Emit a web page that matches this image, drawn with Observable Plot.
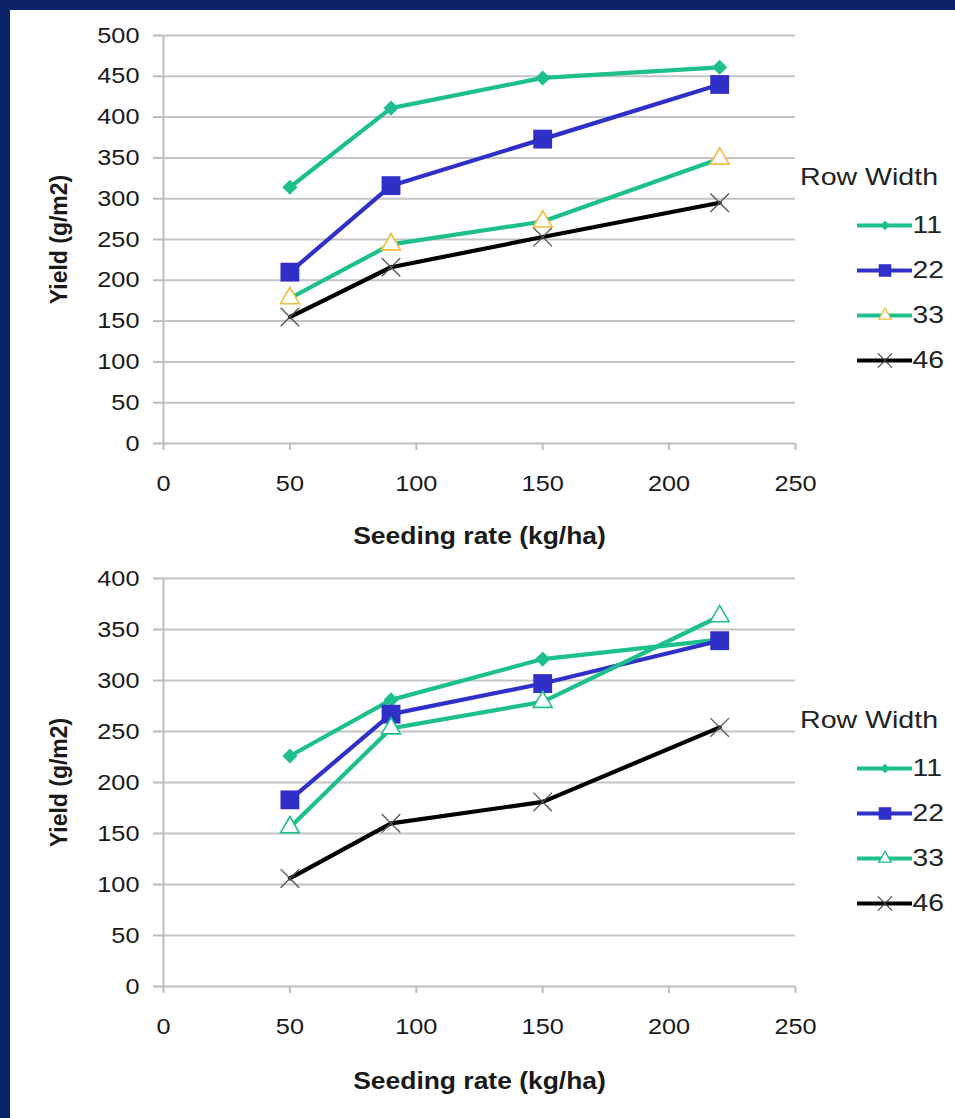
<!DOCTYPE html>
<html><head><meta charset="utf-8">
<script src="https://cdn.jsdelivr.net/npm/d3@7"></script>
<script src="https://cdn.jsdelivr.net/npm/@observablehq/plot@0.6"></script>
<style>
body{margin:0;background:#fff;}
#page{position:relative;width:955px;height:1118px;background:#fff;overflow:hidden;}
#frame{position:absolute;left:0;top:0;width:955px;height:1118px;box-sizing:border-box;border-left:10px solid #0b2468;border-top:10px solid #0b2468;pointer-events:none;}
.abs{position:absolute;}
.ltitle{font-family:"Liberation Sans",Arial,sans-serif;font-size:24px;line-height:28px;color:#222;white-space:nowrap;transform:scaleX(1.19);transform-origin:left center;}
</style></head><body><div id="page"></div>
<script>
// ---- data ----
const rates = [50, 90, 150, 220];
const widths = ["11", "22", "33", "46"];
const xTicks = [0, 50, 100, 150, 200, 250];
const yTicks1 = [0, 50, 100, 150, 200, 250, 300, 350, 400, 450, 500];
const yTicks2 = [0, 50, 100, 150, 200, 250, 300, 350, 400];
// top chart
const top11 = [314, 411, 448, 461];
const top22 = [210, 316, 373, 440];
const top33 = [178, 244, 272, 349];
const top46 = [155, 216, 253, 295];
// bottom chart
const bot11 = [226, 281, 321, 340];
const bot22 = [183, 267, 297, 339];
const bot33 = [156, 253, 279, 363];
const bot46 = [106, 160, 181, 254];

const teal = "#1dbf8d", blue = "#3030c8", black = "#000000";
const colorScale = {domain: widths, range: [teal, blue, teal, black]};
const font = "'Liberation Sans', Arial, sans-serif";
const SX = 1.15; // horizontal stretch of the original slide

function rows(series) {
  const out = [];
  widths.forEach((w, i) => rates.forEach((r, j) => out.push({rate: r, width: w, value: series[i][j]})));
  return out;
}

function stretch(root, selector, s) {
  root.querySelectorAll(selector).forEach(t => {
    const x = +(t.getAttribute("x") || 0);
    const tr = t.getAttribute("transform") || "";
    t.setAttribute("transform", `${tr} translate(${x},0) scale(${s},1) translate(${-x},0)`);
  });
}

function chart({data, yTicks, top, height, mt, mb, triStroke, xLabelOffset}) {
  const ymax = yTicks[yTicks.length - 1];
  const p = Plot.plot({
    width: 955, height,
    marginLeft: 163, marginRight: 160, marginTop: mt, marginBottom: mb,
    style: {fontFamily: font, fontSize: "22px", color: "#1a1a1a", background: "transparent", overflow: "visible"},
    x: {domain: [0, 250]},
    y: {domain: [0, ymax]},
    color: colorScale,
    marks: [
      Plot.gridY({ticks: yTicks.slice(1), stroke: "#c4c4c4", strokeOpacity: 1, strokeWidth: 2}),
      Plot.ruleY([0], {stroke: "#bdbdbd", strokeWidth: 2}),
      Plot.ruleX([0], {stroke: "#bdbdbd", strokeWidth: 2}),
      Plot.axisY({ticks: yTicks, tickSize: 10, tickPadding: 14, stroke: "#bdbdbd", strokeWidth: 2,
        label: "Yield (g/m2)", labelAnchor: "center", labelArrow: "none", labelOffset: 113}),
      Plot.axisX({ticks: xTicks, tickSize: 7, tickPadding: 25, stroke: "#bdbdbd", strokeWidth: 2,
        label: "Seeding rate (kg/ha)", labelAnchor: "center", labelArrow: "none", labelOffset: xLabelOffset}),
      Plot.line(data, {x: "rate", y: "value", z: "width", stroke: "width", strokeWidth: 4.2}),
      Plot.dot(data.filter(d => d.width === "11"), {x: "rate", y: "value", symbol: "diamond2", r: 6.8, fill: teal}),
      Plot.dot(data.filter(d => d.width === "22"), {x: "rate", y: "value", symbol: "square2", r: 12, fill: blue}),
      Plot.dot(data.filter(d => d.width === "33"), {x: "rate", y: "value", symbol: "triangle", r: 7, fill: "#fff", stroke: triStroke, strokeWidth: 1.6}),
      Plot.dot(data.filter(d => d.width === "46"), {x: "rate", y: "value", symbol: "times", r: 8.5, stroke: "#555", strokeWidth: 1.3})
    ]
  });
  p.style.position = "absolute";
  p.style.left = "0px";
  p.style.top = top + "px";
  p.querySelectorAll('[aria-label="y-axis label"] text, [aria-label="x-axis label"] text').forEach(t => {
    t.setAttribute("font-weight", "bold");
    t.setAttribute("font-size", "23");
  });
  stretch(p, '[aria-label="x-axis label"] text, [aria-label="x-axis tick label"] text, [aria-label="y-axis tick label"] text', SX);
  return p;
}

function legend({left, titleTop, rowTop, rowGap, triStroke}) {
  const title = document.createElement("div");
  title.className = "abs ltitle";
  title.style.left = left + "px";
  title.style.top = titleTop + "px";
  title.textContent = "Row Width";
  const mt = 20, h = mt + rowGap * 3 + 20;
  const p = Plot.plot({
    width: 150, height: h,
    marginLeft: 57, marginRight: 38, marginTop: mt, marginBottom: 20,
    style: {fontFamily: font, fontSize: "24px", color: "#222", background: "transparent", overflow: "visible"},
    x: {domain: [0, 1], axis: null},
    y: {domain: widths, type: "point", padding: 0, axis: null},
    color: colorScale,
    marks: [
      Plot.ruleY(widths, {y: d => d, x1: 0, x2: 1, stroke: d => d, strokeWidth: 4}),
      Plot.dot(["11"], {x: 0.5, y: d => d, symbol: "diamond2", r: 4.3, fill: teal}),
      Plot.dot(["22"], {x: 0.5, y: d => d, symbol: "square2", r: 8, fill: blue}),
      Plot.dot(["33"], {x: 0.5, y: d => d, symbol: "triangle", r: 4.6, fill: "#fff", stroke: triStroke, strokeWidth: 1.3}),
      Plot.dot(["46"], {x: 0.5, y: d => d, symbol: "times", r: 6.5, stroke: "#444", strokeWidth: 1.2}),
      Plot.text(widths, {x: 1, y: d => d, text: d => d, textAnchor: "start", dx: 0, fontSize: 24})
    ]
  });
  stretch(p, 'g[aria-label="text"] text', 1.18);
  p.style.position = "absolute";
  p.style.left = "800px";
  p.style.top = (rowTop - mt) + "px";
  return [title, p];
}

const page = document.getElementById("page");
page.appendChild(chart({data: rows([top11, top22, top33, top46]), yTicks: yTicks1, top: 0, height: 560, mt: 35, mb: 117, triStroke: "#f2bc3c", xLabelOffset: 100}));
page.appendChild(chart({data: rows([bot11, bot22, bot33, bot46]), yTicks: yTicks2, top: 545, height: 573, mt: 33, mb: 132, triStroke: teal, xLabelOffset: 102}));
legend({left: 800, titleTop: 163, rowTop: 224, rowGap: 45.7, triStroke: "#f2bc3c"}).forEach(e => page.appendChild(e));
legend({left: 800, titleTop: 706, rowTop: 767, rowGap: 45.7, triStroke: teal}).forEach(e => page.appendChild(e));
const frame = document.createElement("div");
frame.id = "frame";
page.appendChild(frame);
</script>
</body></html>
